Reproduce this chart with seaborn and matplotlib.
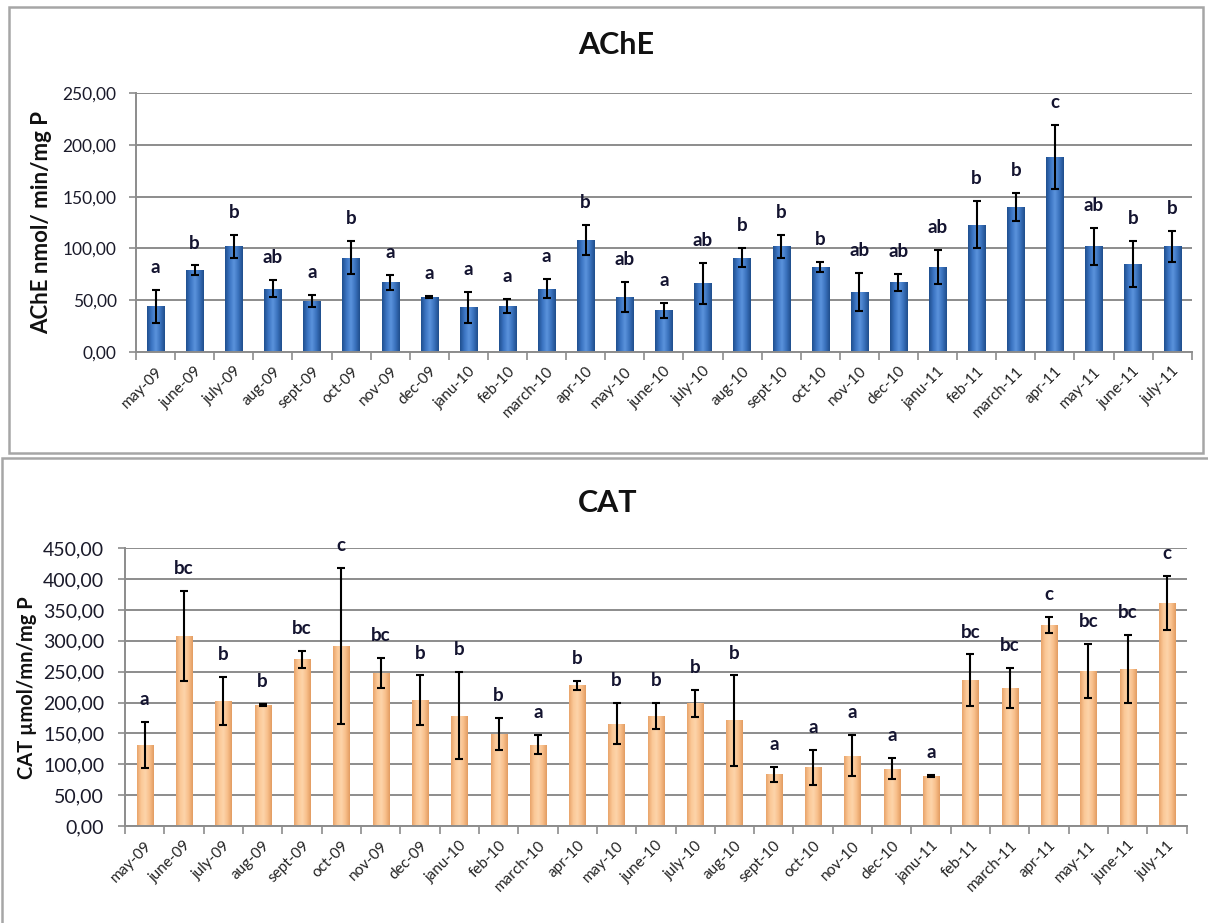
import numpy as np
import pandas as pd
import matplotlib
matplotlib.use("Agg")
import matplotlib.pyplot as plt
from matplotlib.colors import LinearSegmentedColormap
from matplotlib.patches import Rectangle
from matplotlib.ticker import FuncFormatter, FixedLocator
import seaborn as sns

months = ["may-09", "june-09", "july-09", "aug-09", "sept-09", "oct-09", "nov-09",
          "dec-09", "janu-10", "feb-10", "march-10", "apr-10", "may-10", "june-10",
          "july-10", "aug-10", "sept-10", "oct-10", "nov-10", "dec-10", "janu-11",
          "feb-11", "march-11", "apr-11", "may-11", "june-11", "july-11"]

ache_mean = [44, 79, 102, 61, 49, 91, 67, 53, 43, 44, 61, 108, 53, 40, 66, 91,
             102, 82, 58, 67, 82, 123, 140, 188, 102, 85, 102]
ache_err = [16, 4.5, 11, 8.5, 6, 16, 7, 1, 15, 7, 9, 14.5, 14.5, 7.5, 20, 9,
            11, 4.5, 18.5, 8, 16.5, 23, 14, 31, 18, 22.5, 15]
ache_groups = ["a", "b", "b", "ab", "a", "b", "a", "a", "a", "a", "a", "b", "ab", "a",
               "ab", "b", "b", "b", "ab", "ab", "ab", "b", "b", "c", "ab", "b", "b"]

cat_mean = [131, 308, 203, 196, 270, 292, 248, 204, 179, 149, 132, 228, 166, 178,
            199, 171, 84, 95, 114, 93, 81, 236, 224, 326, 251, 254, 361]
cat_err = [37, 73, 39, 2, 14, 126, 25, 40, 71, 26, 16, 7, 33, 21, 22, 73, 12, 28,
           33, 17, 1.5, 42, 32, 13, 44, 55, 44]
cat_groups = ["a", "bc", "b", "b", "bc", "c", "bc", "b", "b", "b", "a", "b", "b", "b",
              "b", "b", "a", "a", "a", "a", "a", "bc", "bc", "c", "bc", "bc", "c"]

sns.set_theme(style="white")
plt.rcParams["font.family"] = ["Lato", "DejaVu Sans"]

fig = plt.figure(figsize=(12.08, 9.23), dpi=100)

# panel frames
fig.add_artist(Rectangle((9 / 1208, 1 - 453 / 923), (1203 - 9) / 1208, (453 - 7) / 923,
                         transform=fig.transFigure, fill=False, edgecolor="#a6a6a6", lw=1.8))
fig.add_artist(Rectangle((1.5 / 1208, 1 - 940 / 923), 1.1, (940 - 458) / 923,
                         transform=fig.transFigure, fill=False, edgecolor="#a6a6a6", lw=1.8))

blue_cmap = LinearSegmentedColormap.from_list(
    "blue_bar", ["#1f4f8f", "#3b74c2", "#5b93dc", "#3a72bd", "#1f4e8c"])
orange_cmap = LinearSegmentedColormap.from_list(
    "orange_bar", ["#e9a46a", "#fbc897", "#fdd4aa", "#f8bf8a", "#e39c62"])


def comma_fmt(v, _pos):
    return f"{v:.2f}".replace(".", ",")


def draw_panel(ax, mean, err, groups, cmap, ymax, step, ylabel, title, title_y,
               width, ytick_size, ylabel_size, ytick_pad):
    df = pd.DataFrame({"month": months, "value": mean})
    sns.barplot(data=df, x="month", y="value", ax=ax, width=width,
                color="#4a7fc4", errorbar=None, zorder=2)
    grad = np.linspace(0, 1, 64).reshape(1, -1)
    for patch in ax.patches:
        x0, w, h = patch.get_x(), patch.get_width(), patch.get_height()
        im = ax.imshow(grad, extent=[x0, x0 + w, 0, h], aspect="auto",
                       cmap=cmap, zorder=2.1, origin="lower")
        im.set_clip_path(patch)
        patch.set_edgecolor("none")
    xs = np.arange(len(months))
    ax.errorbar(xs, mean, yerr=err, fmt="none", ecolor="black", elinewidth=1.5,
                capsize=3, capthick=1.5, zorder=3)
    for x, m, e, g in zip(xs, mean, err, groups):
        ax.annotate(g, (x, m + e), xytext=(0, 10), textcoords="offset points",
                    ha="center", va="bottom", fontsize=13.5, fontweight="bold",
                    color="#141430")
    ax.set_xlim(-0.5, len(months) - 0.5)
    ax.set_ylim(0, ymax)
    ax.set_yticks(np.arange(0, ymax + 0.1, step))
    ax.yaxis.set_major_formatter(FuncFormatter(comma_fmt))
    ax.grid(axis="y", color="#8c8c8c", lw=1.4, zorder=0)
    ax.set_axisbelow(True)
    for s in ["top", "right"]:
        ax.spines[s].set_visible(False)
    for s in ["left", "bottom"]:
        ax.spines[s].set_color("#8c8c8c")
        ax.spines[s].set_linewidth(1.4)
    ax.xaxis.set_minor_locator(FixedLocator(np.arange(-0.5, len(months), 1)))
    ax.tick_params(axis="x", which="major", length=0, pad=9, labelsize=11,
                   labelcolor="#222222")
    ax.tick_params(axis="x", which="minor", bottom=True, length=6, width=1.2,
                   color="#8c8c8c")
    ax.tick_params(axis="y", left=True, length=5, width=1.2, color="#8c8c8c",
                   labelsize=ytick_size, labelcolor="#1a1a2a", pad=ytick_pad)
    plt.setp(ax.get_xticklabels(), rotation=45, ha="right", rotation_mode="anchor")
    ax.set_xlabel("")
    ax.set_ylabel(ylabel, fontsize=ylabel_size, fontweight="bold", color="#111111")
    ax.set_title(title, fontsize=22, fontweight="bold", color="#111111",
                 x=0.455, y=title_y)


ax1 = fig.add_axes([136 / 1208, 1 - 351.7 / 923, (1191.7 - 136) / 1208, (351.7 - 93.3) / 923])
draw_panel(ax1, ache_mean, ache_err, ache_groups, blue_cmap, 250, 50,
           "AChE nmol/ min/mg P", "AChE", 1.12, 0.44, 12.5, 16, 9)
ax1.yaxis.set_label_coords(-0.079, 0.5)

ax2 = fig.add_axes([125 / 1208, 1 - 826 / 923, (1186.7 - 125) / 1208, (826 - 548.3) / 923])
draw_panel(ax2, cat_mean, cat_err, cat_groups, orange_cmap, 450, 50,
           "CAT \u00b5mol/mn/mg P", "CAT", 1.10, 0.41, 14, 14.5, 10)
ax2.yaxis.set_label_coords(-0.083, 0.5)

fig.savefig("out.png", dpi=100)
